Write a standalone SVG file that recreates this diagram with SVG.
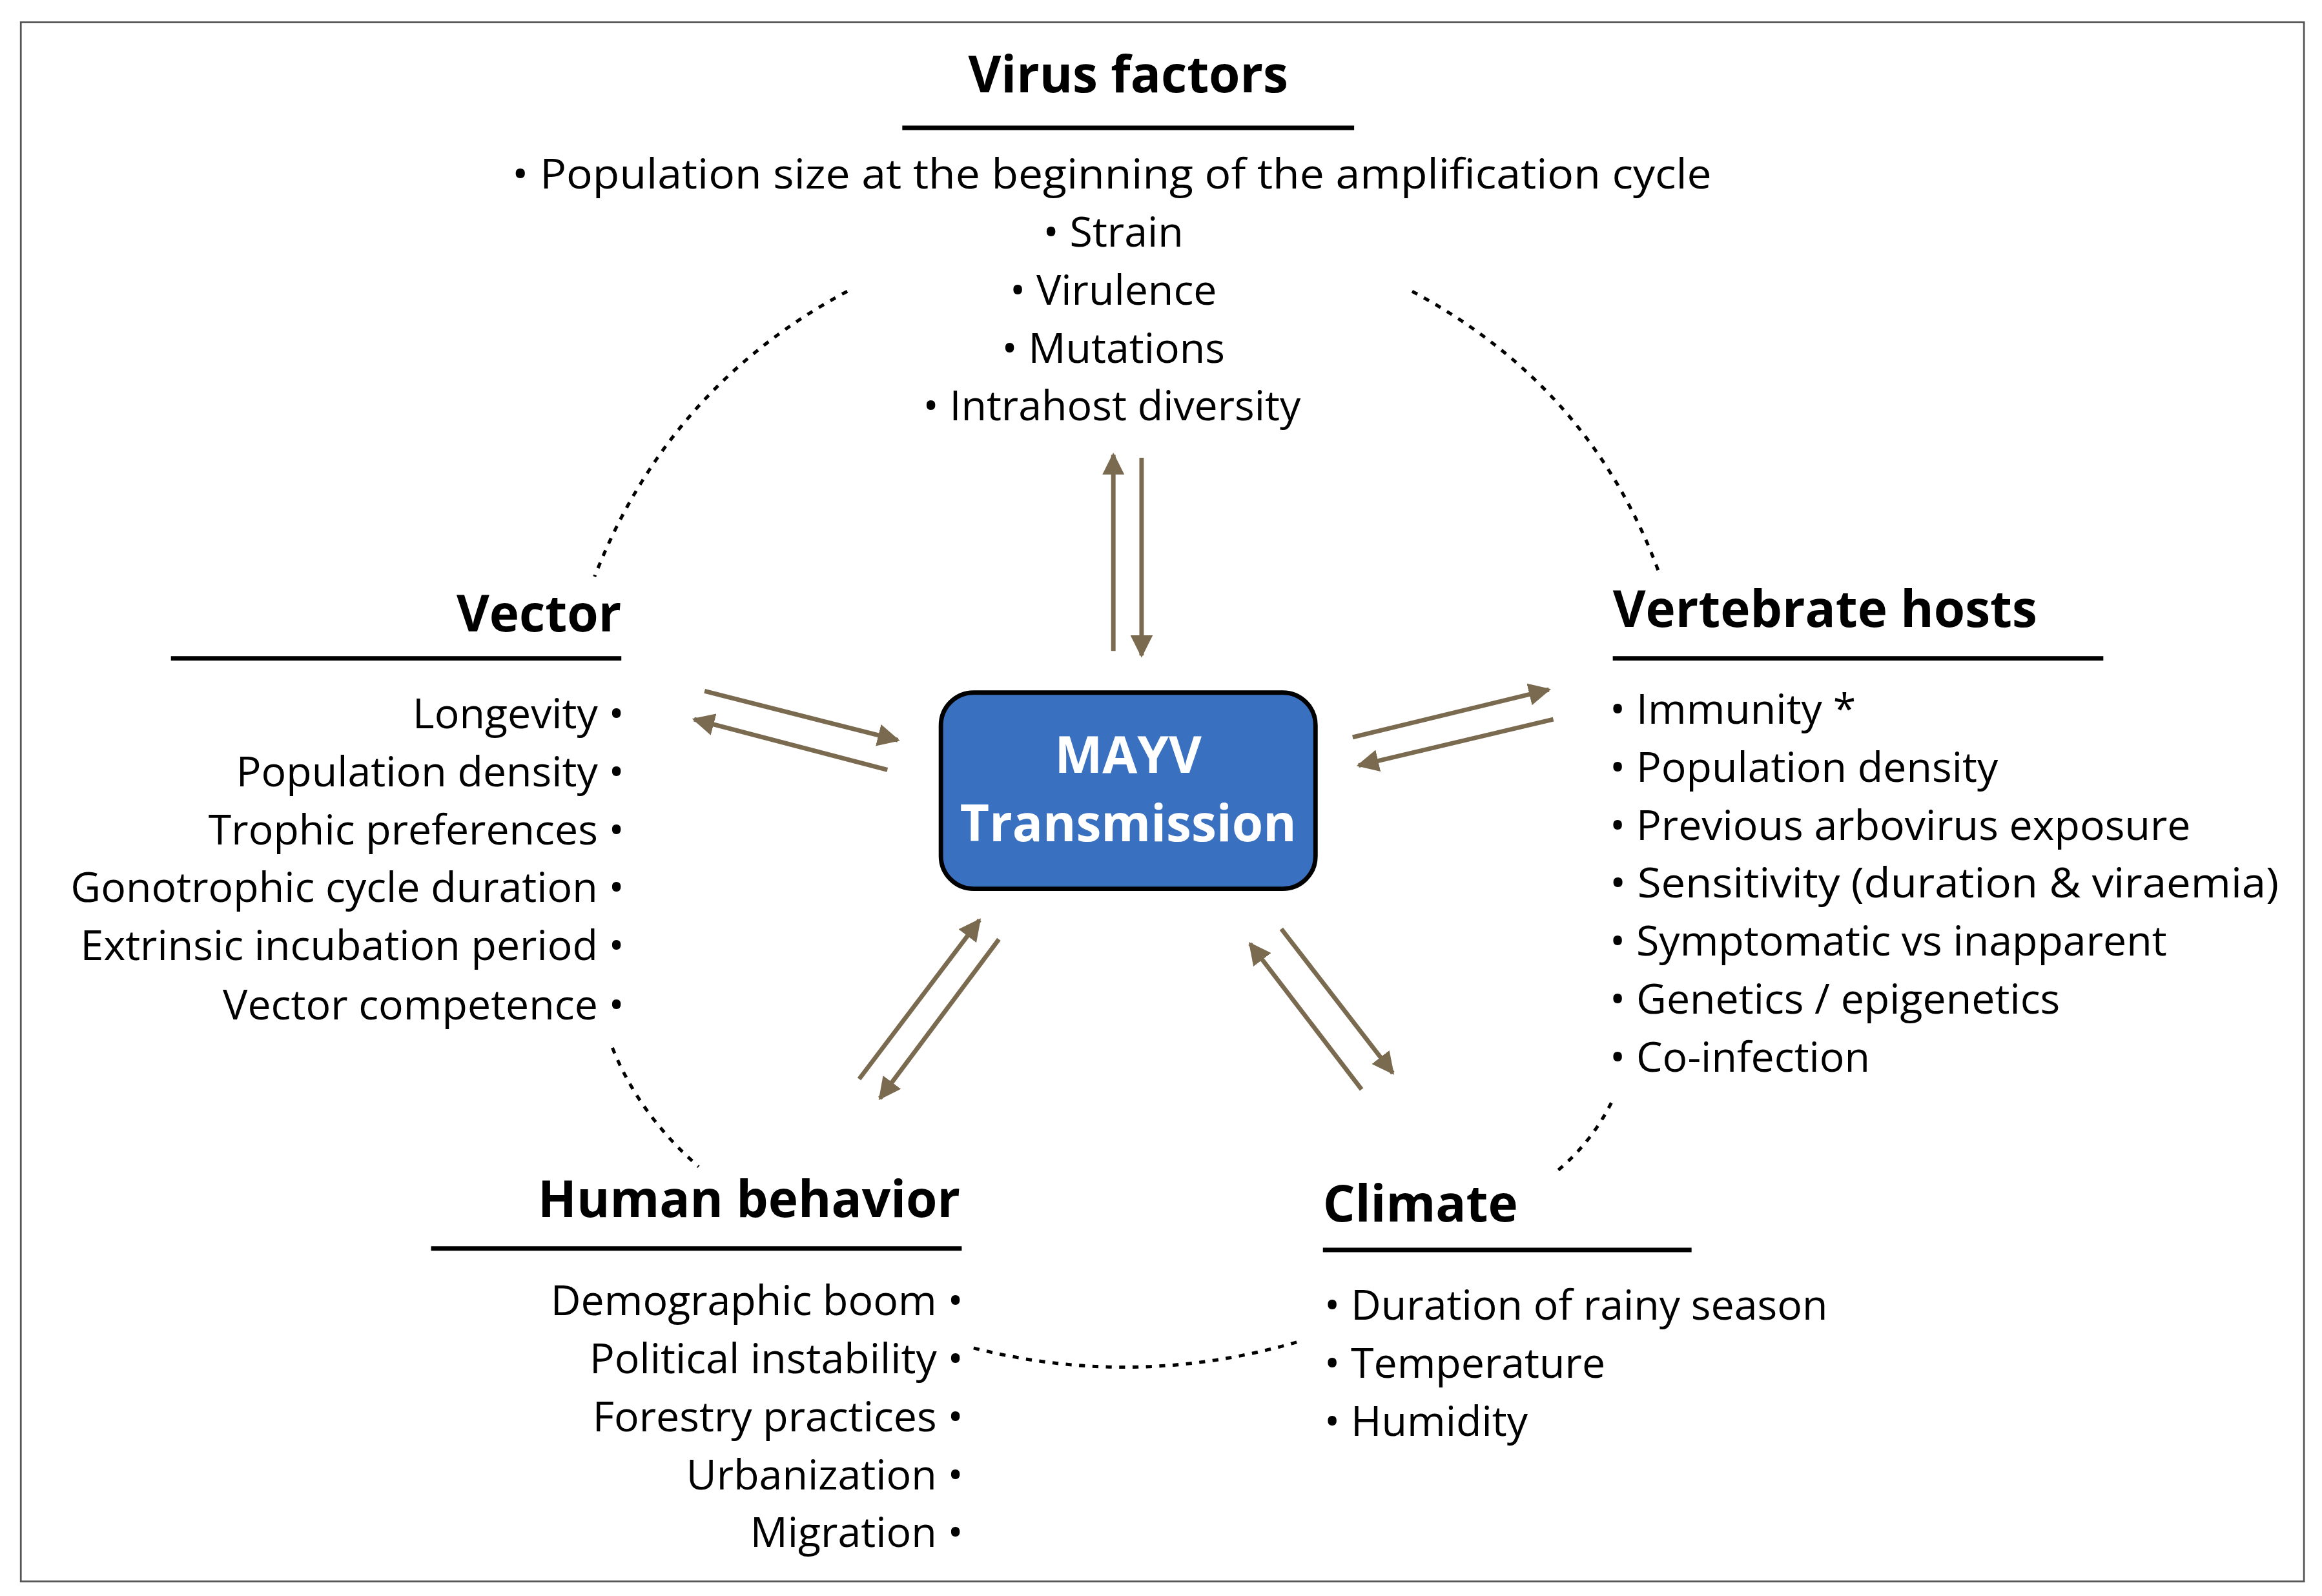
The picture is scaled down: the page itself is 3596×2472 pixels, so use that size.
<svg xmlns="http://www.w3.org/2000/svg" width="3596" height="2472" viewBox="0 0 3596 2472">
<style>
text{font-family:"Open Sans","Noto Sans","Liberation Sans",sans-serif;fill:#000}
.t{font-weight:bold;font-size:34px}
.i{font-size:28px}
.ul{stroke:#000;stroke-width:3}
.ar{stroke:#7a6a4f;stroke-width:3;fill:none;marker-end:url(#ah)}
.dot{stroke:#000;stroke-width:2.2;fill:none;stroke-dasharray:4 5}
</style>
<defs><marker id="ah" viewBox="0 0 10 10" refX="9" refY="5" markerWidth="5" markerHeight="5" orient="auto" markerUnits="strokeWidth"><path d="M0,0L10,5L0,10z" fill="#7a6a4f"/></marker></defs>
<rect width="3596" height="2472" fill="#fff"/>
<g transform="scale(2.302)">
<rect x="14" y="15" width="1536" height="1049" fill="none" stroke="#555" stroke-width="1.2"/>
<g id="connectors">
<path class="dot" d="M570,196 Q450,260 400,388"/>
<path class="dot" d="M950,196 Q1070,260 1116,385"/>
<path class="dot" d="M412,705 Q430,750 470,785"/>
<path class="dot" d="M1084,742 Q1070,770 1045,790"/>
<path class="dot" d="M655,907 Q765,935 876,902"/>
<line class="ar" x1="749" y1="438" x2="749" y2="306"/>
<line class="ar" x1="768" y1="308" x2="768" y2="441"/>
<line class="ar" x1="474" y1="465" x2="604" y2="498"/>
<line class="ar" x1="597" y1="518" x2="467" y2="484"/>
<line class="ar" x1="910" y1="496" x2="1042" y2="464"/>
<line class="ar" x1="1045" y1="484" x2="914" y2="515"/>
<line class="ar" x1="578" y1="726" x2="659" y2="619"/>
<line class="ar" x1="672" y1="632" x2="592" y2="739"/>
<line class="ar" x1="916" y1="733" x2="841" y2="635"/>
<line class="ar" x1="862" y1="625" x2="937" y2="722"/>
</g>
<g id="center">
<rect x="633" y="466" width="252" height="132" rx="22" fill="#3a70c0" stroke="#000" stroke-width="3"/>
<text class="t" x="759" y="520" text-anchor="middle" style="fill:#fff">MAYV</text>
<text class="t" x="759" y="566" text-anchor="middle" style="fill:#fff">Transmission</text>
</g>
<g id="virus">
<text class="t" x="759" y="62" text-anchor="middle">Virus factors</text>
<line class="ul" x1="607" y1="86" x2="911" y2="86"/>
<g class="i" text-anchor="middle">
<text class="i" x="748" y="127" textLength="807" lengthAdjust="spacingAndGlyphs">• Population size at the beginning of the amplification cycle</text>
<text class="i" x="749" y="166">• Strain</text>
<text class="i" x="749" y="205">• Virulence</text>
<text class="i" x="749" y="244">• Mutations</text>
<text class="i" x="748" y="283">• Intrahost diversity</text>
</g>
</g>
<g id="vector" text-anchor="end">
<text class="t" x="418" y="425">Vector</text>
<line class="ul" x1="115" y1="443" x2="418" y2="443"/>
<text class="i" x="420" y="490">Longevity •</text>
<text class="i" x="420" y="529">Population density •</text>
<text class="i" x="420" y="568">Trophic preferences •</text>
<text class="i" x="420" y="607">Gonotrophic cycle duration •</text>
<text class="i" x="420" y="646">Extrinsic incubation period •</text>
<text class="i" x="420" y="686">Vector competence •</text>
</g>
<g id="hosts">
<text class="t" x="1085" y="422">Vertebrate hosts</text>
<line class="ul" x1="1085" y1="443" x2="1415" y2="443"/>
<text class="i" x="1083" y="487">• Immunity *</text>
<text class="i" x="1083" y="526">• Population density</text>
<text class="i" x="1083" y="565">• Previous arbovirus exposure</text>
<text class="i" x="1083" y="604" textLength="450" lengthAdjust="spacingAndGlyphs">• Sensitivity (duration &amp; viraemia)</text>
<text class="i" x="1083" y="643">• Symptomatic vs inapparent</text>
<text class="i" x="1083" y="682">• Genetics / epigenetics</text>
<text class="i" x="1083" y="721">• Co-infection</text>
</g>
<g id="human" text-anchor="end">
<text class="t" x="646" y="819">Human behavior</text>
<line class="ul" x1="290" y1="840" x2="647" y2="840"/>
<text class="i" x="648" y="885">Demographic boom •</text>
<text class="i" x="648" y="924">Political instability •</text>
<text class="i" x="648" y="963">Forestry practices •</text>
<text class="i" x="648" y="1002">Urbanization •</text>
<text class="i" x="648" y="1041">Migration •</text>
</g>
<g id="climate">
<text class="t" x="890" y="822">Climate</text>
<line class="ul" x1="890" y1="841" x2="1138" y2="841"/>
<text class="i" x="891" y="888">• Duration of rainy season</text>
<text class="i" x="891" y="927">• Temperature</text>
<text class="i" x="891" y="966">• Humidity</text>
</g>
</g>
</svg>
